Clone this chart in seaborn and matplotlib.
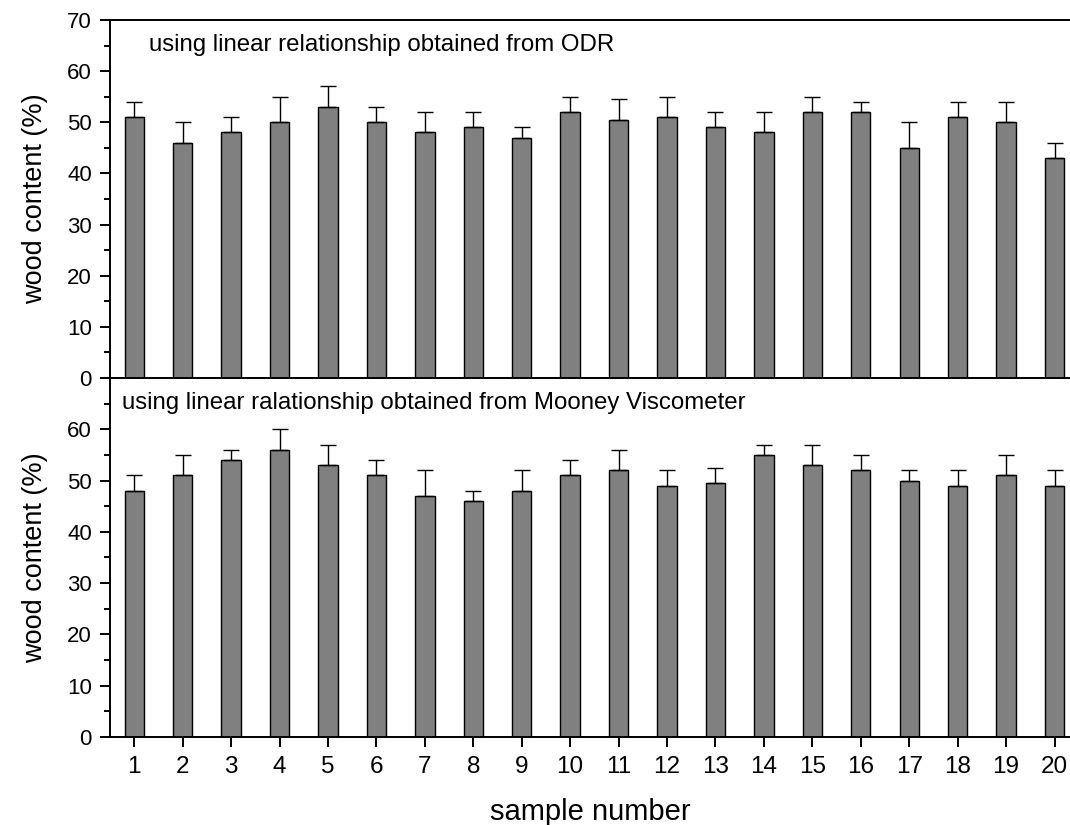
import numpy as np
import pandas as pd
import matplotlib
matplotlib.use('Agg')
import matplotlib.pyplot as plt
import seaborn as sns
from matplotlib.ticker import MultipleLocator

# datos
samples = list(range(1, 21))
odr_vals = [51, 46, 48, 50, 53, 50, 48, 49, 47, 52, 50.5, 51, 49, 48, 52, 52, 45, 51, 50, 43]
odr_err = [3, 4, 3, 5, 4, 3, 4, 3, 2, 3, 4, 4, 3, 4, 3, 2, 5, 3, 4, 3]
mooney_vals = [48, 51, 54, 56, 53, 51, 47, 46, 48, 51, 52, 49, 49.5, 55, 53, 52, 50, 49, 51, 49]
mooney_err = [3, 4, 2, 4, 4, 3, 5, 2, 4, 3, 4, 3, 3, 2, 4, 3, 2, 3, 4, 3]

label_top = 'using linear relationship obtained from ODR'
label_bot = 'using linear ralationship obtained from Mooney Viscometer'

sns.set_style('ticks')
plt.rcParams['font.family'] = ['Liberation Sans', 'DejaVu Sans']
plt.rcParams['axes.linewidth'] = 1.4
for k in ['text.color', 'axes.labelcolor', 'xtick.color', 'ytick.color', 'axes.edgecolor']:
    plt.rcParams[k] = 'black'

fig = plt.figure(figsize=(10.7, 8.25), dpi=100)
ax1 = fig.add_axes([0.1028, 0.5418, 0.8972, 0.4340])
ax2 = fig.add_axes([0.1028, 0.1067, 0.8972, 0.4351])

def panel(ax, vals, errs, texto, tx):
    df = pd.DataFrame({'sample': samples, 'value': vals})
    sns.barplot(data=df, x='sample', y='value', native_scale=True, color='#808080',
                saturation=1, edgecolor='black', linewidth=1.0, width=0.4, errorbar=None, ax=ax)
    ax.errorbar(samples, vals, yerr=[np.zeros(len(errs)), errs], fmt='none',
                ecolor='black', elinewidth=1.0, capsize=5.5, capthick=1.0)
    ax.set_xlim(0.5, 20.32)
    ax.set_ylim(0, 70)
    ax.yaxis.set_major_locator(MultipleLocator(10))
    ax.yaxis.set_minor_locator(MultipleLocator(5))
    ax.set_xticks(samples)
    ax.tick_params(axis='y', which='major', length=7, width=1.4, labelsize=16, pad=6)
    ax.tick_params(axis='y', which='minor', length=4, width=1.4)
    ax.tick_params(axis='x', which='major', length=7, width=1.4, labelsize=17.5, pad=7)
    ax.spines['right'].set_visible(False)
    ax.set_ylabel('wood content (%)', fontsize=19.5, labelpad=14)
    ax.set_xlabel('')
    ax.text(tx, 0.93, texto, transform=ax.transAxes, fontsize=17.3, va='center', ha='left')

panel(ax1, odr_vals, odr_err, label_top, 0.041)
panel(ax2, mooney_vals, mooney_err, label_bot, 0.012)

ax1.tick_params(axis='x', labelbottom=False)
ax2.set_yticks([0, 10, 20, 30, 40, 50, 60])
ax2.set_ylim(0, 70)
ax2.set_xlabel('sample number', fontsize=21, labelpad=14)

fig.savefig('out.png', dpi=100)
